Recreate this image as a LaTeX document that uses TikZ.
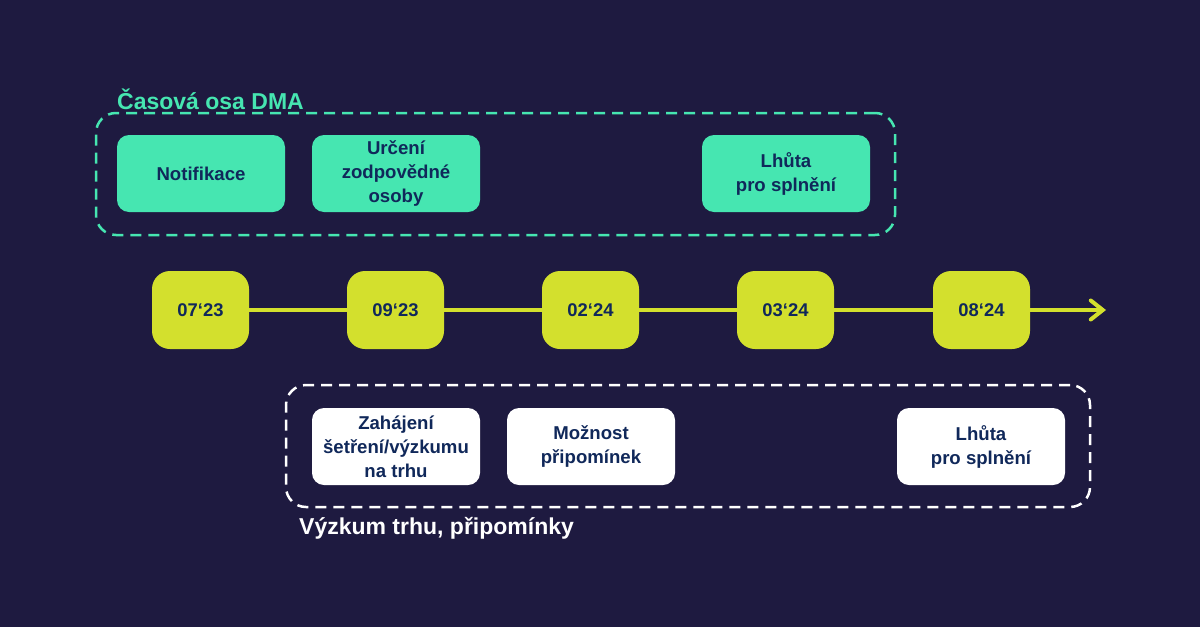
\documentclass[tikz,border=0pt]{standalone}
\usepackage{fontspec}
\setmainfont{Liberation Sans}
\usetikzlibrary{arrows.meta}
\definecolor{bg}{HTML}{1E1A40}
\definecolor{teal}{HTML}{46E6B1}
\definecolor{lime}{HTML}{D3E02D}
\definecolor{navy}{HTML}{10285A}
\tikzset{
  phasebox/.style={rounded corners=12pt, minimum width=168pt, minimum height=77pt, align=center,
    text=navy, font=\fontsize{18.6}{24}\selectfont\bfseries, inner sep=0pt},
  tealbox/.style={phasebox, fill=teal},
  whitebox/.style={phasebox, fill=white},
  datebox/.style={rounded corners=18pt, fill=lime, minimum width=97pt, minimum height=78pt,
    text=navy, font=\fontsize{18.4}{22}\selectfont\bfseries, inner sep=0pt},
  groupbox/.style={rounded corners=20pt, line width=2.5pt, dash pattern=on 11pt off 7pt,
    minimum width=799pt, minimum height=122pt, inner sep=0pt},
  grouptitle/.style={anchor=west, font=\fontsize{23}{27}\selectfont\bfseries, inner sep=0pt},
  axis/.style={lime, line width=4pt}
}
\begin{document}
\begin{tikzpicture}[x=1pt,y=-1pt]
\fill[bg] (0,0) rectangle (1200,627);
\useasboundingbox (0,0) rectangle (1200,627);

% groups
\node[groupbox, draw=teal] (gtop) at (495.5,174) {};
\node[grouptitle, text=teal] (ttop) at (117,99) {Časová osa DMA};
\node[groupbox, draw=white, minimum width=804pt] (gbot) at (688,446) {};
\node[grouptitle, text=white] (tbot) at (299,528) {Výzkum trhu, připomínky};

% top boxes
\node[tealbox] (notif) at (201,173.5) {Notifikace};
\node[tealbox] (urc) at (396,173.5) {Určení\\zodpovědné\\osoby};
\node[tealbox] (lhuta1) at (786,173.5) {Lhůta\\pro splnění};

% bottom boxes
\node[whitebox] (zah) at (396,446.5) {Zahájení\\šetření/výzkumu\\na trhu};
\node[whitebox] (moz) at (591,446.5) {Možnost\\připomínek};
\node[whitebox] (lhuta2) at (981,446.5) {Lhůta\\pro splnění};

% timeline
\node[datebox] (d1) at (200.5,310) {07‘23};
\node[datebox] (d2) at (395.5,310) {09‘23};
\node[datebox] (d3) at (590.5,310) {02‘24};
\node[datebox] (d4) at (785.5,310) {03‘24};
\node[datebox] (d5) at (981.5,310) {08‘24};
\coordinate (tend) at (1106,310);

\draw[axis] (d1) -- (d2);
\draw[axis] (d2) -- (d3);
\draw[axis] (d3) -- (d4);
\draw[axis] (d4) -- (d5);
\draw[axis, -{Straight Barb[length=12pt, width=19pt, line cap=round]}] (d5) -- (tend);
\end{tikzpicture}
\end{document}
